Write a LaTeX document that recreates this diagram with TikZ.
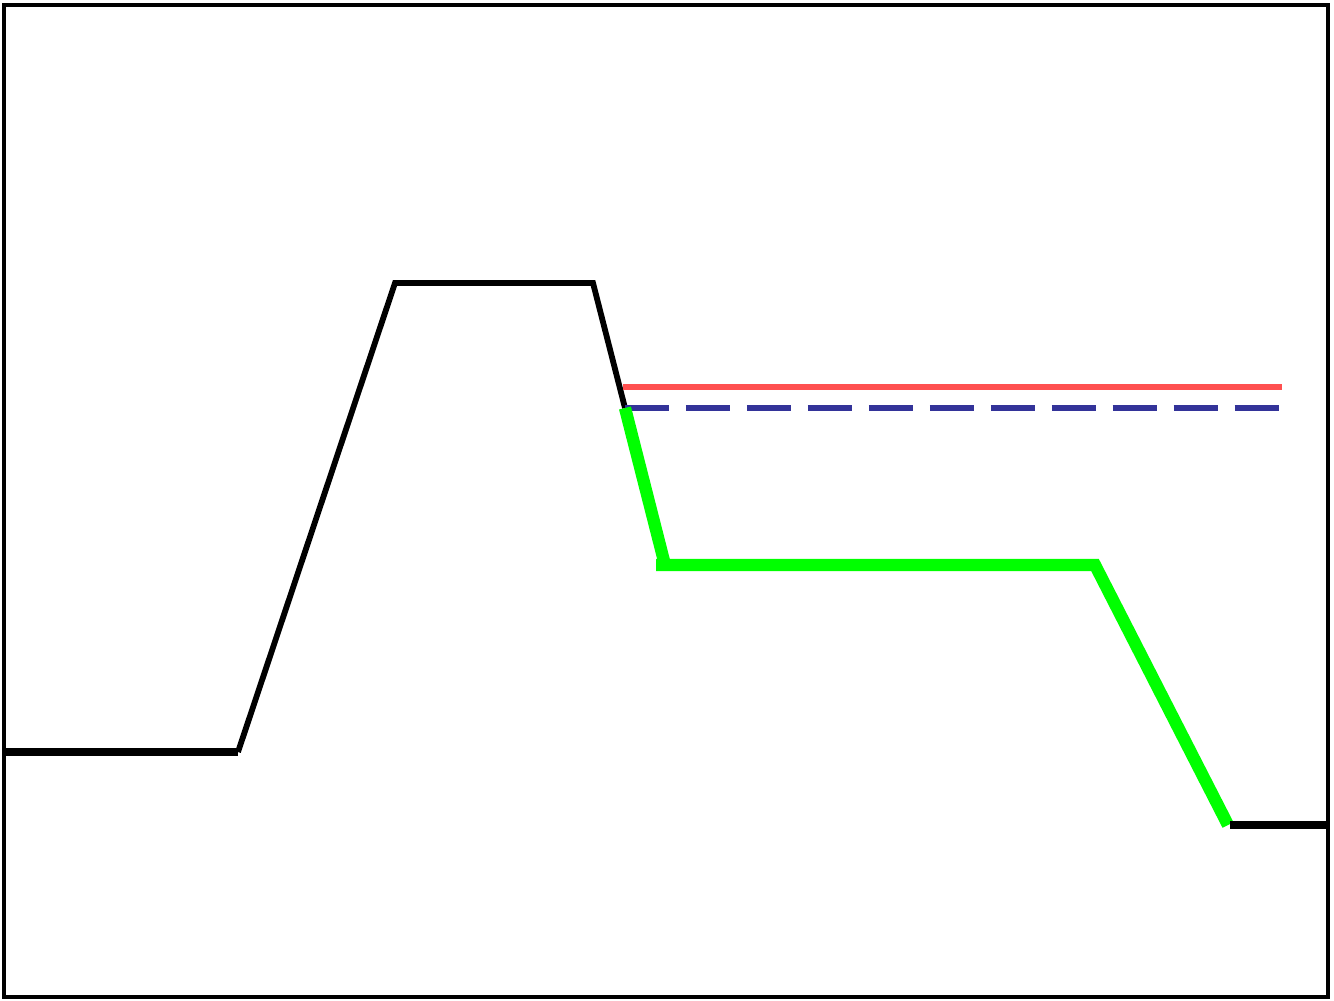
\documentclass[tikz,border=0pt]{standalone}
\definecolor{redline}{HTML}{FF5050}
\definecolor{blueline}{HTML}{333399}
\definecolor{greenline}{HTML}{00FF00}
\tikzset{
  frameline/.style={draw=black, line width=1.8pt},
  blackline/.style={draw=black, line width=3.3pt},
  blackthick/.style={draw=black, line width=4pt},
  greenpath/.style={draw=greenline, line width=7pt},
  redpath/.style={draw=redline, line width=3.4pt},
  bluepath/.style={draw=blueline, line width=3.6pt, dash pattern=on 25.2pt off 9.5pt},
}
\begin{document}
\begin{tikzpicture}[x=0.02cm, y=-0.02cm]
\useasboundingbox (0,0) rectangle (1334,1000);
\fill[white] (0,0) rectangle (1334,1000);
% key points
\coordinate (p0) at (4,752);
\coordinate (p1) at (238,752);
\coordinate (p2) at (395,283);
\coordinate (p3) at (593,283);
\coordinate (p4) at (625,408);
\coordinate (g1) at (665,565);
\coordinate (g1a) at (656,565);
\coordinate (g2) at (1095,565);
\coordinate (g3) at (1228,825);
\coordinate (q0) at (1230,825);
\coordinate (q1) at (1328,825);
% black curve
\draw[blackthick] (p0) -- (p1);
\draw[blackline] (p1) -- (p2) -- (p3) -- (p4);
% red and blue reference lines
\draw[redpath] (623,387) -- (1282,387);
\draw[bluepath] (p4) -- (1280,408);
% green segment
\draw[greenpath] (p4) -- (g1);
\draw[greenpath, line join=miter] (g1a) -- (g2) -- (g3);
\draw[blackthick] (q0) -- (q1);
% frame
\draw[frameline] (4,5) rectangle (1328,997);
\end{tikzpicture}
\end{document}
